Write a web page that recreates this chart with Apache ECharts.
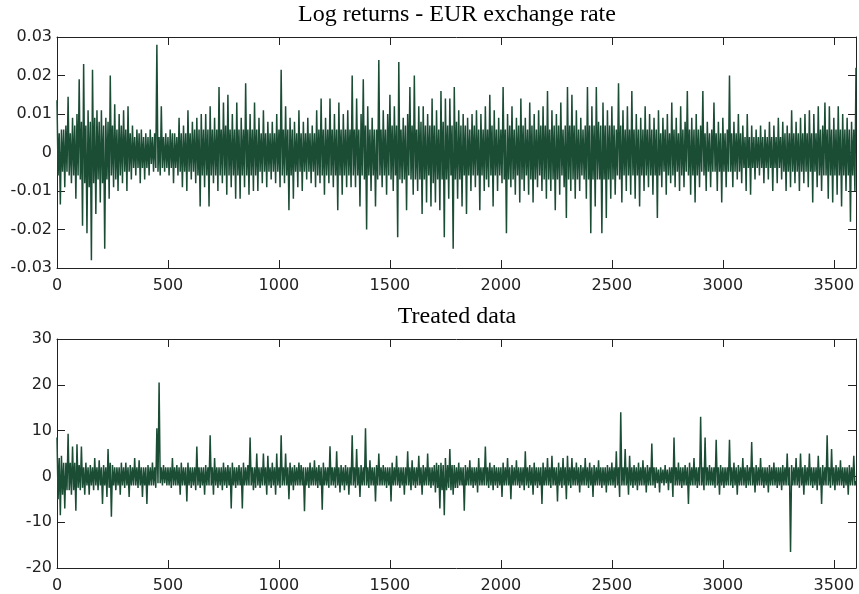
<!DOCTYPE html>
<html>
<head>
<meta charset="utf-8">
<script src="https://cdn.jsdelivr.net/npm/echarts@6/dist/echarts.min.js"></script>
<style>
	html, body { margin: 0; padding: 0; background: #fff; }
	#chart { width: 859px; height: 594px; }
</style>
</head>
<body>
<div id="chart"></div>
<script>
// one value every 5 observations, x runs 0 .. 3600
const STEP = 5

// log returns in thousandths (0.01 == 10)
const eur0 = [
	13.6, -6, 5, -13.5, 6, -5, 6, -9, 7, -5,
	14.5, -6, 5, -8, 9, -6, 7, -12, 10, -6,
	19, -7, 8, -19, 23, -8, 7, -21, 11, -9,
	8, -28, 21.5, -8, 9, -16, 11, -7, 8, -13,
	11, -8, 7, -25, 9, -7, 8, -12, 20, -6,
	7, -9, 12.5, -7, 6, -10, 10, -6, 7, -8,
	11, -5, 6, -10, 12, -5, 5, -7, 7, -4,
	4, -6, 6, -4, 5, -8, 6, -4, 4, -7,
	5, -4, 4, -6, 6, -3, 4, -5, 5, -4,
	28, -5, 4, -6, 12, -4, 4, -5, 5, -4,
]
const eur500 = [
	4, -6, 6, -4, 5, -8, 5, -4, 4, -6,
	9, -5, 5, -9, 7, -5, 5, -10, 11, -5,
	5, -7, 8, -5, 6, -8, 9, -6, 6, -14,
	10, -6, 6, -9, 10, -6, 6, -14, 12, -6,
	6, -8, 9, -6, 6, -10, 17, -6, 6, -8,
	13, -6, 7, -11, 15, -6, 6, -9, 10, -6,
	6, -12, 13, -6, 6, -12, 9, -6, 6, -9,
	18, -6, 6, -11, 10, -6, 6, -10, 13, -6,
	6, -10, 9, -5, 5, -8, 11, -5, 5, -9,
	8, -5, 5, -7, 8, -5, 5, -8, 10, -5,
]
const eur1000 = [
	6, -9, 21.5, -6, 6, -8, 12, -6, 6, -15,
	9, -6, 6, -12, 8, -5, 5, -9, 11, -5,
	5, -10, 8, -5, 5, -7, 9, -5, 5, -8,
	7, -5, 5, -9, 11, -6, 6, -8, 14, -6,
	6, -11, 9, -6, 6, -8, 14, -6, 6, -9,
	10, -6, 6, -15, 13, -6, 6, -11, 10, -6,
	6, -9, 11, -6, 6, -9, 20, -6, 6, -9,
	14, -6, 6, -14, 10, -6, 19, -7, 7, -20,
	12, -6, 6, -10, 9, -6, 6, -14, 6, -7,
	24, -6, 6, -9, 11, -6, 6, -11, 10, -6,
]
const eur1500 = [
	15, -7, 7, -10, 12, -6, 7, -22, 23.5, -7,
	6, -8, 9, -7, 7, -15, 10, -6, 17, -7,
	7, -11, 20, -7, 6, -10, 12, -7, 8, -16,
	12, -7, 7, -13, 10, -6, 7, -14, 14, -8,
	7, -13, 11, -7, 6, -15, 16, -7, 8, -22,
	14, -7, 7, -12, 14, -6, 7, -25, 17, -7,
	8, -12, 11, -7, 7, -14, 10, -6, 7, -16,
	9, -6, 6, -10, 10, -6, 7, -9, 11, -6,
	6, -15, 10, -6, 6, -10, 12, -7, 6, -9,
	15, -6, 7, -14, 11, -6, 6, -10, 9, -6,
]
const eur2000 = [
	6, -8, 17, -7, 6, -21, 10, -7, 7, -9,
	12, -7, 6, -11, 9, -6, 7, -13, 14, -7,
	7, -10, 9, -6, 6, -11, 13, -7, 7, -13,
	10, -7, 6, -9, 11, -6, 7, -10, 12, -7,
	7, -12, 16, -7, 6, -10, 11, -7, 7, -15,
	10, -7, 7, -11, 13, -6, 6, -9, 7, -17,
	17, -7, 7, -10, 15, -7, 7, -12, 11, -7,
	6, -10, 9, -6, 6, -7, 7, -12, 17, -7,
	7, -21, 12, -7, 7, -14, 17, -7, 8, -7,
	7, -21, 13, -7, 7, -17, 11, -7, 7, -12,
]
const eur2500 = [
	12, -7, 7, -11, 6, -6, 18, -7, 7, -13,
	11, -6, 6, -10, 12, -6, 6, -11, 16, -6,
	6, -12, 10, -6, 6, -14, 9, -6, 6, -10,
	12, -6, 6, -9, 10, -6, 6, -11, 9, -6,
	6, -17, 11, -6, 5, -9, 9, -5, 6, -11,
	10, -6, 5, -8, 13, -6, 6, -9, 9, -5,
	5, -10, 12, -6, 6, -9, 8, -5, 16, -6,
	6, -11, 9, -6, 6, -13, 10, -6, 6, -9,
	7, -5, 16, -6, 5, -10, 8, -5, 5, -9,
	6, -5, 13, -5, 5, -10, 8, -5, 5, -13,
]
const eur3000 = [
	9, -5, 5, -9, 6, -5, 20, -5, 5, -9,
	8, -5, 5, -7, 10, -5, 5, -8, 7, -4,
	4, -10, 10, -4, 4, -11, 7, -4, 4, -7,
	6, -4, 4, -6, 7, -4, 4, -8, 6, -4,
	4, -7, 8, -4, 4, -10, 7, -4, 4, -8,
	9, -4, 4, -7, 8, -5, 5, -10, 7, -5,
	5, -9, 11, -5, 5, -8, 8, -5, 5, -10,
	9, -5, 5, -8, 10, -5, 5, -9, 11, -5,
	5, -13, 10, -5, 5, -9, 12, -6, 6, -10,
	7, -6, 13, -6, 6, -12, 12, -6, 6, -13,
]
const eur3500 = [
	9, -6, 6, -11, 12, -6, 6, -14, 10, -6,
	6, -10, 9, -6, 6, -18, 8, -6, 6, -10,
	22,
]

// treated (standardised) data
const treated0 = [
	8.5, -5, 4, -8.5, 4.5, -4, 3, -7, 3, -3,
	9.3, -3, 3, -4, 6.5, -3, 3, -7.5, 7, -2.5,
	2.5, -3, 6.5, -2.5, 2, -4, 3, -2, 2, -4,
	2.5, -2, 2, -3, 4, -2, 2, -3, 3.5, -2,
	2, -6, 2.5, -2, 2, -4.5, 6, -2.5, 3, -8.8,
	2.5, -2, 2, -3, 2, -2, 2, -4, 3, -2,
	2, -2.5, 3, -2, 2, -4.5, 2.5, -2, 2, -2,
	4, -2, 2, -2.5, 3.5, -2, 2, -4.5, 2, -2,
	2, -6, 2.5, -2, 2, -2, 3, -2, 2, -2.5,
	10.5, -1.5, 20.5, -1.5, 2, -2, 2.5, -1.5, 2, -2,
]
const treated500 = [
	2, -2, 2, -2.5, 4, -2, 2, -2, 2.5, -2,
	2, -4, 3, -2, 2, -2, 2, -5.5, 3, -2,
	2, -2.5, 2, -2, 2, -3, 6.5, -2, 2, -2.5,
	2, -2, 2, -4, 2.5, -2, 2, -2, 9, -2,
	2, -4, 4, -2, 2, -2.5, 2, -2, 2, -3,
	3, -2, 2, -2.5, 2.5, -2, 2, -7, 3, -2,
	2, -2.5, 2, -2, 2.5, -2, 2, -7, 3, -2,
	2, -2, 2.5, -2, 8.5, -2, 2, -3, 2, -2.5,
	5, -2, 2, -2.5, 2, -2, 5, -2, 2, -4,
	4.5, -2, 2, -2.5, 3, -2, 2, -4, 5, -2,
]
const treated1000 = [
	2, -2.5, 9, -2, 2, -2, 5, -2, 2, -5,
	3, -2, 2, -3, 2.5, -2, 2, -2, 3, -2,
	2.5, -2, 2, -7.6, 2, -2, 2, -2.5, 3, -2,
	2, -2, 3.5, -2, 2, -2.5, 2.5, -2, 2, -7.3,
	3, -2, 2, -2, 2, -2.5, 6.6, -2, 2, -2,
	2, -2.5, 5.5, -2, 2, -3.5, 2.5, -2, 2, -3,
	2.5, -2, 2, -4, 2, -2, 9, -2, 2, -2.5,
	6, -2, 2, -4.5, 2.5, -2, 2, -2, 10.5, -2,
	2, -2.5, 3.5, -2, 2, -2, 2, -5.5, 2.5, -2,
	5, -2, 2, -2, 2.5, -2, 2, -2.5, 2, -2,
]
const treated1500 = [
	2, -5.5, 3, -2, 2, -2, 4.5, -2, 2, -2.5,
	2, -2, 2, -4, 2, -2, 5.5, -2, 2, -3,
	3.5, -2, 2, -2.5, 2, -2, 4.5, -2, 2, -4,
	2.5, -2, 2, -2, 5, -2, 2, -2.5, 2, -2,
	2.5, -3.5, 3, -2.5, 2.5, -7, 3, -3, 2.5, -8.5,
	4, -3, 2.5, -2.5, 6, -3, 2.5, -4, 2.5, -2.5,
	2, -2.5, 3, -2, 2, -2, 2, -7.5, 2.5, -2,
	2, -2, 3.5, -2, 2, -2.5, 2, -2, 2, -3.5,
	4, -2, 2, -2, 2, -2, 6.5, -2, 2, -2.5,
	3, -2, 2, -3, 2.5, -2, 2, -2.5, 2, -2,
]
const treated2000 = [
	2, -4.5, 3, -2, 2, -2, 4, -2, 2, -5,
	2.5, -2, 2, -2, 3.5, -2, 2, -2.5, 2, -2,
	2, -3, 5.5, -2, 2, -2.5, 2.5, -2, 2, -4,
	3, -2, 2, -2.5, 2, -2, 2, -6, 3, -2,
	2, -2, 4, -2, 2, -2.5, 4.5, -2, 2, -2,
	2, -5.5, 3, -2, 2, -2.5, 4, -2, 2, -5,
	4.5, -2, 2, -2.5, 4, -2, 2, -2, 3, -2,
	2, -3.5, 2.5, -2, 2, -2, 4, -2, 2, -2.5,
	3, -2, 2, -4.5, 2.5, -2, 2, -2, 3.5, -2,
	2, -2.5, 2, -2, 2, -3.5, 2.5, -2, 2, -2,
]
const treated2500 = [
	3, -2, 2, -2.5, 5.5, -2, 2, -4.5, 14, -2,
	2, -2, 6, -2, 2, -4, 4.5, -2, 2, -2.5,
	2.5, -2, 2, -3, 3, -2, 2, -2, 3.5, -2,
	2, -3.5, 2.5, -2, 2, -2, 7.2, -2, 2, -2.5,
	2, -1.5, 1.5, -3.5, 2, -1.5, 1.5, -2, 2.5, -1.5,
	1.5, -3, 2, -1.5, 2, -4.5, 8.5, -2, 2, -2,
	3, -2, 2, -2.5, 2, -2, 2.5, -2, 2, -6,
	3, -2, 2, -2, 4, -2, 2, -2.5, 2, -2,
	13, -2, 2, -3, 8.5, -2, 2, -2, 2.5, -2,
	2, -2, 2, -2.5, 8, -2, 2, -4, 2.5, -2,
]
const treated3000 = [
	2, -2.5, 2, -2, 2, -2, 8, -2, 2, -2.5,
	3, -2, 2, -4, 2.5, -2, 2, -2, 4, -2,
	2, -2.5, 2.5, -2, 2, -2, 7.5, -2, 2, -3.5,
	2.5, -2, 2, -2, 4, -2, 2, -2.5, 2, -2,
	2, -3.5, 2.5, -2, 2, -2, 3, -2, 2, -2.5,
	2, -2, 2, -3, 2.5, -2, 2, -2, 5, -2,
	2, -16.5, 2.5, -2, 2, -2, 4, -2, 2, -2.5,
	5, -2, 2, -4, 2.5, -2, 2, -2, 5, -2,
	2, -2.5, 2, -2, 2, -3, 4.5, -2, 2, -6,
	2.5, -2, 2, -2, 9, -2, 2, -2.5, 6, -2,
]
const treated3500 = [
	2, -3, 2.5, -2, 2, -2, 3.5, -2, 2, -2.5,
	2, -2, 2, -4, 2.5, -2, 2, -2, 4.5, -2,
	-1,
]

const xTicks = [0, 500, 1000, 1500, 2000, 2500, 3000, 3500]

const logReturns = [].concat(eur0, eur500, eur1000, eur1500, eur2000, eur2500, eur3000, eur3500)
const treated = [].concat(treated0, treated500, treated1000, treated1500, treated2000, treated2500, treated3000, treated3500)

const LINE_COLOR = '#1b4d35'
const AXIS_COLOR = '#222'
const labelFont = { fontFamily: 'DejaVu Sans', fontSize: 16, color: '#222' }
const titleFont = { fontFamily: 'Liberation Serif', fontSize: 24, fontWeight: 'normal', color: '#000' }

const toPoints = arr => arr.map((v, i) => [i * STEP, v])

// bottom axis with labels + mirrored top axis (box style frame)
function xAxes(gridIndex) {
	const base = {
		type: 'value',
		gridIndex,
		min: 0,
		max: 3600,
		interval: 500,
		axisLine: { show: true, onZero: false, lineStyle: { color: AXIS_COLOR, width: 1 } },
		axisTick: { show: true, inside: true, length: 8, lineStyle: { color: AXIS_COLOR } },
		splitLine: { show: false },
	}
	return [
		{
			...base,
			position: 'bottom',
			axisLabel: {
				...labelFont,
				margin: 10,
				formatter: v => (xTicks.includes(v) ? String(v) : ''),
			},
		},
		{ ...base, position: 'top', axisLabel: { show: false } },
	]
}

function yAxes(gridIndex, min, max, formatter) {
	const base = {
		type: 'value',
		gridIndex,
		min,
		max,
		interval: 10,
		axisLine: { show: true, onZero: false, lineStyle: { color: AXIS_COLOR, width: 1 } },
		axisTick: { show: true, inside: true, length: 8, lineStyle: { color: AXIS_COLOR } },
		splitLine: { show: false },
	}
	return [
		{ ...base, position: 'left', axisLabel: { ...labelFont, margin: 5, formatter } },
		{ ...base, position: 'right', axisLabel: { show: false } },
	]
}

function lineSeries(name, axisIndex, values) {
	return {
		name,
		type: 'line',
		xAxisIndex: axisIndex,
		yAxisIndex: axisIndex,
		data: toPoints(values),
		showSymbol: false,
		symbol: 'none',
		sampling: null,
		// a bit heavier than 1px so the dense zig-zag reads as a solid band
		lineStyle: { color: LINE_COLOR, width: 1.5 },
	}
}

const chart = echarts.init(document.getElementById('chart'), null, { renderer: 'canvas' })

chart.setOption({
	animation: false,
	backgroundColor: '#fff',
	title: [
		{ text: 'Log returns - EUR exchange rate', left: 457, top: 3, textAlign: 'center', padding: 0, textStyle: titleFont },
		{ text: 'Treated data', left: 457, top: 305, textAlign: 'center', padding: 0, textStyle: titleFont },
	],
	grid: [
		{ left: 57, top: 37, width: 800, height: 231 },
		{ left: 57, top: 339, width: 800, height: 230 },
	],
	xAxis: [...xAxes(0), ...xAxes(1)],
	yAxis: [
		// top panel values are stored in thousandths, labels show the real return
		...yAxes(0, -30, 30, v => String(v / 1000)),
		...yAxes(1, -20, 30, v => String(v)),
	],
	series: [
		lineSeries('Log returns', 0, logReturns),
		lineSeries('Treated data', 2, treated),
	],
})
</script>
</body>
</html>
